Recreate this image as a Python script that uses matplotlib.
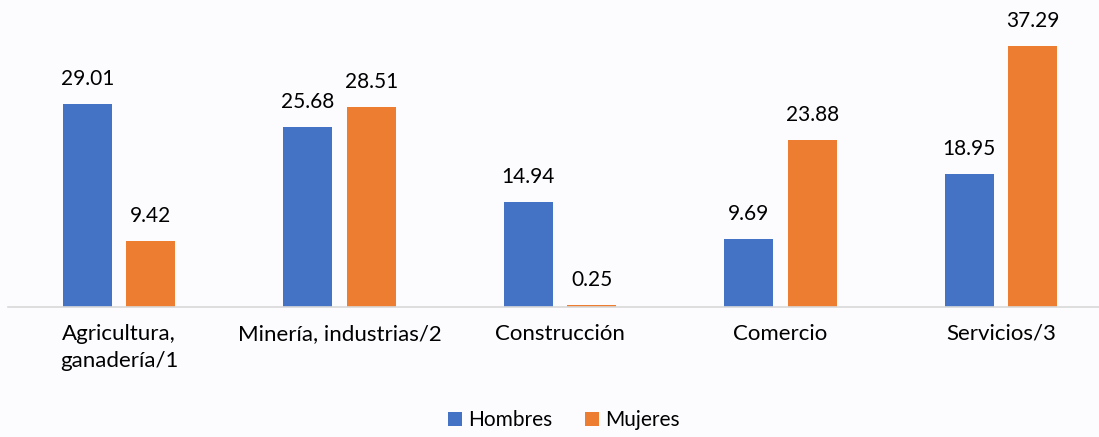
import matplotlib.pyplot as plt
import numpy as np

categories = ["Agricultura,\nganadería/1", "Minería, industrias/2", "Construcción", "Comercio", "Servicios/3"]
hombres = [29.01, 25.68, 14.94, 9.69, 18.95]
mujeres = [9.42, 28.51, 0.25, 23.88, 37.29]

BLUE = "#4472C4"
ORANGE = "#ED7D31"
BG = "#fcfbfe"

plt.rcParams["font.family"] = ["Lato", "DejaVu Sans"]

W, H = 1099, 437
fig = plt.figure(figsize=(W / 100, H / 100), dpi=100, facecolor=BG)
# axes placed in pixel terms: left 8px, right edge, baseline at y=307
ax = fig.add_axes([8 / W, (H - 307) / H, (W - 8) / W, 307 / H], facecolor=BG)

x = np.arange(len(categories))
width = 0.222
off = 0.144
b1 = ax.bar(x - off, hombres, width, color=BLUE, label="Hombres")
b2 = ax.bar(x + off, mujeres, width, color=ORANGE, label="Mujeres")

for bars, vals in ((b1, hombres), (b2, mujeres)):
    for rect, v in zip(bars, vals):
        ax.annotate(f"{v:.2f}", (rect.get_x() + rect.get_width() / 2, v),
                    xytext=(0, 11), textcoords="offset points",
                    ha="center", va="bottom", fontsize=15, color="#000000")

ax.set_xlim(-(119 - 8) / 220.5, 4 + (1099 - 1001) / 220.5)
ax.set_ylim(0, 307 / 7.0)
ax.set_xticks(x)
ax.set_xticklabels(categories, fontsize=16, linespacing=1.45)
ax.tick_params(axis="x", length=0, pad=12)
ax.set_yticks([])
for s in ("top", "right", "left"):
    ax.spines[s].set_visible(False)
ax.spines["bottom"].set_color("#d9d9d9")
ax.spines["bottom"].set_linewidth(1.2)

fig.legend(handles=[b1, b2], loc="center", bbox_to_anchor=(564 / W, 1 - 420 / H),
           ncol=2, frameon=False, fontsize=15, handlelength=0.65, handleheight=0.65,
           handletextpad=0.3, columnspacing=1.6)

fig.savefig("out.png", dpi=100, facecolor=BG)
